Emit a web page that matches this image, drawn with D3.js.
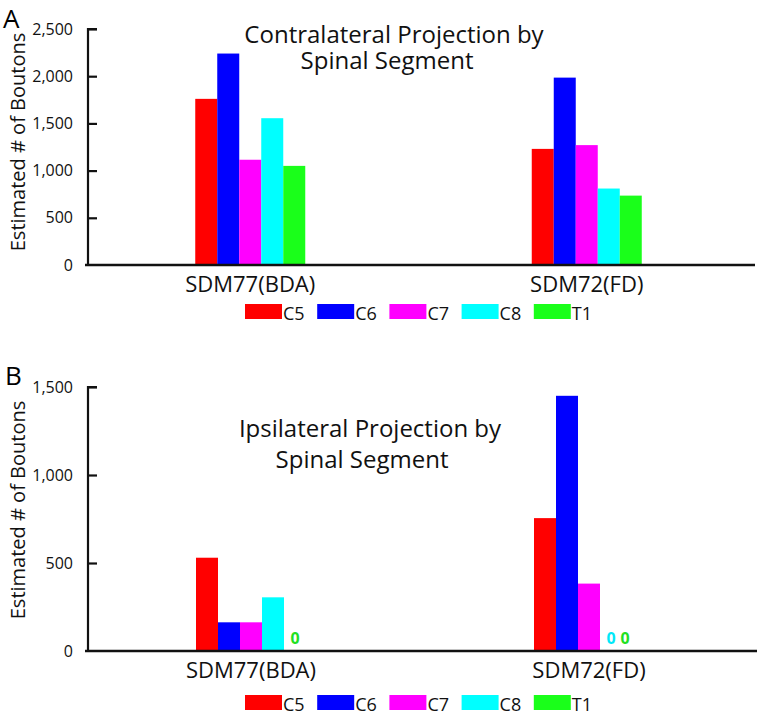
<!DOCTYPE html>
<html>
<head>
<meta charset="utf-8">
<script src="https://cdn.jsdelivr.net/npm/d3@7"></script>
<style>
  html, body { margin: 0; padding: 0; background: #fff; }
  svg { display: block; font-family: "Open Sans", "Noto Sans", sans-serif; }
</style>
</head>
<body>
<svg id="chart" width="760" height="714"></svg>
<script>
// ---------- data ----------
const groups = ["SDM77(BDA)", "SDM72(FD)"];
const series = ["C5", "C6", "C7", "C8", "T1"];
const seriesColors = ["#ff0000", "#0000ff", "#ff00ff", "#00ffff", "#1aff1a"];
const zeroLabelColors = ["#ff0000", "#0000ff", "#ff00ff", "#00e8f8", "#22e022"];

// Contralateral (panel A): one array per group, columns = series
const contraSDM77 = [1760, 2240, 1115, 1555, 1050];
const contraSDM72 = [1230, 1985, 1270, 810, 735];
// Ipsilateral (panel B)
const ipsiSDM77 = [530, 163, 163, 305, 0];
const ipsiSDM72 = [755, 1450, 383, 0, 0];

const ticksA = [0, 500, 1000, 1500, 2000, 2500];
const ticksB = [0, 500, 1000, 1500];

const svg = d3.select("#chart");
const fmt = d3.format(",");

function drawPanel(cfg) {
  const g = svg.append("g");
  const x0 = d3.scaleBand().domain(groups).range(cfg.xRange);
  const inner = 110;
  const x1 = d3.scaleBand().domain(series)
    .range([(x0.bandwidth() - inner) / 2, (x0.bandwidth() + inner) / 2]);
  const y = d3.scaleLinear().domain(cfg.yDomain).range(cfg.yRange);

  const rows = groups.map((gr, i) => ({ group: gr, values: cfg.values[i] }));

  // bars
  const grp = g.selectAll("g.grp").data(rows).join("g")
    .attr("transform", d => `translate(${x0(d.group)},0)`);
  grp.selectAll("rect").data(d => d.values.map((v, j) => ({ s: series[j], v, j })))
    .join("rect")
    .attr("x", d => x1(d.s))
    .attr("width", x1.bandwidth())
    .attr("y", d => y(d.v))
    .attr("height", d => y(0) - y(d.v))
    .attr("fill", d => seriesColors[d.j]);

  // zero labels
  grp.each(function (d) {
    let prev = null;
    d.values.forEach((v, j) => {
      if (v === 0) {
        const cx = prev === null ? x1(series[j]) + x1.bandwidth() / 2 : prev + 14;
        prev = cx;
        d3.select(this).append("text")
          .attr("x", cx).attr("y", y(0) - 7)
          .attr("text-anchor", "middle")
          .attr("font-size", 16).attr("font-weight", "bold")
          .attr("fill", zeroLabelColors[j])
          .text("0");
      }
    });
  });

  // y axis
  const yAxis = d3.axisRight(y).tickValues(cfg.ticks).tickSize(9).tickFormat(() => "");
  const ya = g.append("g").attr("transform", `translate(${cfg.axisX},0)`).call(yAxis);
  ya.select(".domain").attr("d", `M9,${y(cfg.yDomain[1])}H0V${y(0)}`)
    .attr("stroke", "#111").attr("stroke-width", 2.2).attr("fill", "none");
  ya.selectAll(".tick line").attr("stroke", "#111").attr("stroke-width", 2.2);
  ya.selectAll(".tick").filter(d => d === 0).select("line").remove();

  g.selectAll("text.ytick").data(cfg.ticks).join("text")
    .attr("class", "ytick")
    .attr("x", cfg.axisX - 15).attr("y", d => y(d)).attr("dy", "0.35em")
    .attr("text-anchor", "end").attr("font-size", 16).attr("fill", "#111")
    .text(d => fmt(d));

  // x axis line
  g.append("line")
    .attr("x1", cfg.axisX - 3).attr("x2", cfg.xAxisEnd)
    .attr("y1", y(0)).attr("y2", y(0))
    .attr("stroke", "#111").attr("stroke-width", 2.6);

  // group labels
  g.selectAll("text.xlab").data(groups).join("text")
    .attr("class", "xlab")
    .attr("x", d => x0(d) + x0.bandwidth() / 2)
    .attr("y", y(0) + cfg.xLabelOffset)
    .attr("text-anchor", "middle").attr("font-size", 22).attr("fill", "#111")
    .text(d => d);

  // y label
  g.append("text")
    .attr("transform", `translate(${cfg.yLabelX},${cfg.yLabelY}) rotate(-90)`)
    .attr("text-anchor", "middle").attr("font-size", 20).attr("fill", "#111")
    .text("Estimated # of  Boutons");

  // title
  const t = g.append("text").attr("text-anchor", "middle")
    .attr("font-size", cfg.titleSize).attr("fill", "#111");
  cfg.title.forEach((line, i) => {
    t.append("tspan").attr("x", cfg.titleX[i]).attr("y", cfg.titleY + i * cfg.titleGap).text(line);
  });

  // panel letter
  g.append("text").attr("x", cfg.letterX).attr("y", cfg.letterY)
    .attr("font-size", 26).attr("fill", "#000").text(cfg.letter);

  // legend
  const lx = d3.scaleBand().domain(series).range([245, 606]);
  const leg = g.selectAll("g.leg").data(series).join("g")
    .attr("transform", d => `translate(${lx(d)},${cfg.legendY})`);
  leg.append("rect").attr("width", 37).attr("height", 15)
    .attr("fill", (d, i) => seriesColors[i]);
  leg.append("text").attr("x", 38).attr("y", 15.5).attr("font-size", 18)
    .attr("fill", "#111").text(d => d);
}

drawPanel({
  values: [contraSDM77, contraSDM72],
  xRange: [82, 755],
  yDomain: [0, 2500], yRange: [265, 29],
  ticks: ticksA, axisX: 88, xAxisEnd: 755,
  xLabelOffset: 27,
  yLabelX: 25, yLabelY: 142,
  title: ["Contralateral Projection by", "Spinal Segment"],
  titleX: [394, 387], titleY: 43, titleGap: 26, titleSize: 24,
  letter: "A", letterX: 3, letterY: 28,
  legendY: 304
});

drawPanel({
  values: [ipsiSDM77, ipsiSDM72],
  xRange: [82, 758],
  yDomain: [0, 1500], yRange: [651, 387],
  ticks: ticksB, axisX: 88, xAxisEnd: 757,
  xLabelOffset: 27,
  yLabelX: 25, yLabelY: 510,
  title: ["Ipsilateral Projection by", "Spinal Segment"],
  titleX: [370, 362], titleY: 437, titleGap: 31, titleSize: 24,
  letter: "B", letterX: 5, letterY: 385,
  legendY: 695
});
</script>
</body>
</html>
